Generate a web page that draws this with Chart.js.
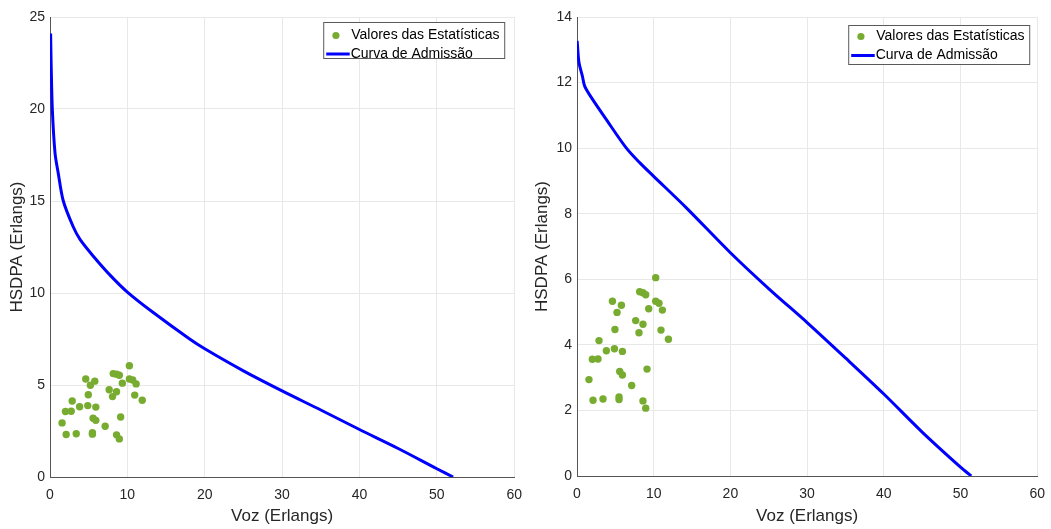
<!DOCTYPE html>
<html>
<head>
<meta charset="utf-8">
<script src="https://cdn.jsdelivr.net/npm/chart.js@4/dist/chart.umd.min.js"></script>
<style>
  html, body { margin: 0; padding: 0; background: #fff; overflow: hidden; }
  #wrap { position: relative; width: 1051px; height: 529px; overflow: hidden; }
  canvas { position: absolute; top: 0; }
</style>
</head>
<body>
<div id="wrap">
  <canvas id="left" width="532" height="529" style="left:0"></canvas>
  <canvas id="right" width="530" height="529" style="left:525px"></canvas>
</div>
<script>
// scatter: statistics values (same in both panels)
const vozStats = [10.26, 8.17, 8.6, 8.96, 4.62, 5.79, 5.22, 10.26, 10.69, 11.13, 9.35, 7.65, 8.6, 8.08, 4.95, 10.95, 11.92,
  2.87, 3.83, 4.88, 5.92, 2.0, 2.74, 9.13, 5.57, 5.92, 1.56, 7.13, 2.09, 3.39, 5.48, 5.48, 8.6, 8.96];
const hsdpaStats = [6.05, 5.62, 5.59, 5.53, 5.33, 5.21, 4.99, 5.33, 5.27, 5.06, 5.10, 4.74, 4.63, 4.37, 4.47, 4.45, 4.17,
  4.13, 3.82, 3.88, 3.80, 3.56, 3.57, 3.26, 3.19, 3.08, 2.94, 2.76, 2.31, 2.35, 2.41, 2.33, 2.29, 2.07];

// admission curve, left panel
const curveVozA = [0.08, 0.15, 0.3, 0.65, 1.07, 1.72, 3.0, 3.9, 5.6, 7.7, 10, 13.3, 18.05, 20, 25, 30, 35, 40, 45, 50, 52.1];
const curveHsdpaA = [24.1, 22.4, 20, 17.6, 16.5, 15, 13.6, 12.9, 12.0, 11.0, 10.05, 8.95, 7.5, 6.97, 5.77, 4.68, 3.64, 2.58, 1.55, 0.45, 0];

// admission curve, right panel
const curveVozB = [0.02, 0.26, 0.7, 1.0, 1.88, 3.83, 6.44, 8.2, 10, 14.26, 20, 25.2, 30, 35, 40, 45, 50, 51.4];
const curveHsdpaB = [13.27, 12.61, 12.2, 11.89, 11.54, 10.87, 10.0, 9.55, 9.14, 8.18, 6.81, 5.67, 4.68, 3.6, 2.5, 1.34, 0.27, 0];

const statsLabel = "Valores das Estatísticas";
const curveLabel = "Curva de Admissão";
const green = "#77ac30";
const blue = "#0000ff";
const ink = "#262626";
const FONT = "'Liberation Sans', Arial, sans-serif";

const pts = (xs, ys) => xs.map((x, i) => ({ x, y: ys[i] }));

// legend box drawn inside the plot area, top right
const boxLegend = {
  id: "boxLegend",
  afterDraw(chart, args, opts) {
    const { ctx, chartArea } = chart;
    const w = 181, h = opts.h;
    const x = chartArea.right - opts.right - w;
    const y = chartArea.top + opts.top;
    ctx.save();
    ctx.fillStyle = "#fff";
    ctx.fillRect(x, y, w, h);
    ctx.strokeStyle = "#5a5a5a";
    ctx.lineWidth = 1;
    ctx.strokeRect(x + 0.5, y + 0.5, w, h);
    const ds = chart.data.datasets;
    ctx.font = "14px " + FONT;
    ctx.textBaseline = "middle";
    // row 1: marker
    ctx.beginPath();
    ctx.arc(x + 12.7, y + opts.r1, 3.6, 0, Math.PI * 2);
    ctx.fillStyle = green;
    ctx.fill();
    ctx.fillStyle = "#000";
    ctx.fillText(ds[0].label, x + 28, y + opts.r1);
    // row 2: line
    ctx.beginPath();
    ctx.moveTo(x + 3, y + opts.r2);
    ctx.lineTo(x + 26.5, y + opts.r2);
    ctx.strokeStyle = blue;
    ctx.lineWidth = 3;
    ctx.stroke();
    ctx.fillText(ds[1].label, x + 27.5, y + opts.r2);
    ctx.restore();
  }
};

function makeChart(id, curveX, curveY, yMax, yStep, yW, xH, legend) {
  return new Chart(document.getElementById(id), {
    type: "scatter",
    data: {
      datasets: [
        { label: statsLabel, data: pts(vozStats, hsdpaStats), backgroundColor: green, borderWidth: 0, pointRadius: 3.7, order: 2 },
        { label: curveLabel, data: pts(curveX, curveY), showLine: true, borderColor: blue, borderWidth: 3,
          pointRadius: 0, tension: 0.3, order: 1 }
      ]
    },
    plugins: [boxLegend],
    options: {
      responsive: false,
      animation: false,
      layout: { padding: { left: 0, right: 11, top: 17, bottom: 0 } },
      plugins: { legend: { display: false }, tooltip: { enabled: false }, boxLegend: legend },
      scales: {
        x: {
          type: "linear", min: 0, max: 60,
          ticks: { stepSize: 10, color: ink, padding: 10, font: { family: FONT, size: 14 } },
          grid: { color: "#e8e8e8", drawTicks: false },
          border: { color: "#555", width: 1 },
          title: { display: true, text: "Voz (Erlangs)", color: ink, font: { family: FONT, size: 17 }, padding: { bottom: 2 } },
          afterFit: s => { s.height = xH; }
        },
        y: {
          type: "linear", min: 0, max: yMax,
          ticks: { stepSize: yStep, color: ink, padding: 5, font: { family: FONT, size: 14 } },
          grid: { color: "#e8e8e8", drawTicks: false },
          border: { color: "#555", width: 1 },
          title: { display: true, text: "HSDPA (Erlangs)", color: ink, font: { family: FONT, size: 17 }, padding: { top: 7 } },
          afterFit: s => { s.width = yW; }
        }
      }
    }
  });
}

makeChart("left", curveVozA, curveHsdpaA, 25, 5, 50, 52, { right: 10, top: 5, h: 36, r1: 13.5, r2: 32 });
makeChart("right", curveVozB, curveHsdpaB, 14, 2, 52, 53, { right: 8, top: 8, h: 39, r1: 11.5, r2: 30.5 });
</script>
</body>
</html>
